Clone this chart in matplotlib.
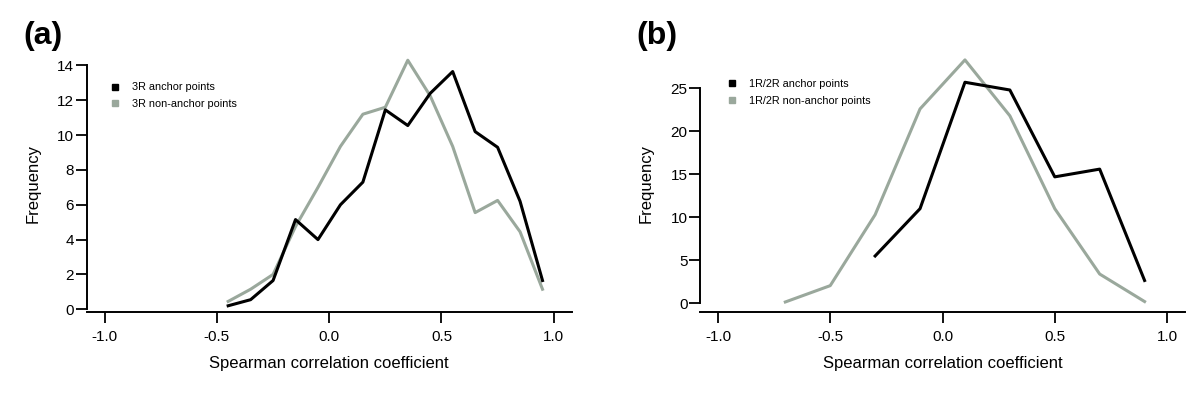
import matplotlib
matplotlib.use('Agg')

import matplotlib.pyplot as plt
from matplotlib.lines import Line2D

plt.rcParams['font.family'] = ['Liberation Sans', 'DejaVu Sans']

BLACK = '#000000'
GREY = '#9aa89c'

# panel (a): 3R
x_a = [-0.45, -0.35, -0.25, -0.15, -0.05, 0.05, 0.15, 0.25, 0.35, 0.45, 0.55, 0.65, 0.75, 0.85, 0.95]
anchor_a = [0.2, 0.55, 1.65, 5.15, 4.0, 6.0, 7.3, 11.45, 10.55, 12.4, 13.65, 10.2, 9.3, 6.2, 1.65]
nonanchor_a = [0.45, 1.15, 2.0, 4.75, 7.0, 9.35, 11.2, 11.6, 14.3, 12.25, 9.35, 5.55, 6.25, 4.45, 1.15]

# panel (b): 1R/2R
x_b_anchor = [-0.3, -0.1, 0.1, 0.3, 0.5, 0.7, 0.9]
anchor_b = [5.5, 11.0, 25.7, 24.8, 14.7, 15.6, 2.65]
x_b_non = [-0.7, -0.5, -0.3, -0.1, 0.1, 0.3, 0.5, 0.7, 0.9]
nonanchor_b = [0.15, 2.05, 10.3, 22.6, 28.3, 21.8, 11.0, 3.4, 0.2]

x_ticks = [-1.0, -0.5, 0.0, 0.5, 1.0]
x_ticklabels = ['-1.0', '-0.5', '0.0', '0.5', '1.0']
y_ticks_a = [0, 2, 4, 6, 8, 10, 12, 14]
y_ticks_b = [0, 5, 10, 15, 20, 25]

W, H = 1200, 401
fig = plt.figure(figsize=(12, 4.01), dpi=100)


def px_axes(left, right, top, bottom):
    return fig.add_axes([left / W, (H - bottom) / H, (right - left) / W, (bottom - top) / H])


def style(ax, yticks, ylim, labels, legend_xy):
    ax.set_xlim(-1.08, 1.08)
    ax.set_ylim(*ylim)
    for s in ['top', 'right']:
        ax.spines[s].set_visible(False)
    for s in ['left', 'bottom']:
        ax.spines[s].set_linewidth(1.4)
    ax.spines['left'].set_bounds(yticks[0], yticks[-1])
    ax.set_xticks(x_ticks)
    ax.set_xticklabels(x_ticklabels)
    ax.set_yticks(yticks)
    ax.tick_params(axis='x', length=8, width=1.3, pad=5, labelsize=11)
    ax.tick_params(axis='y', length=8, width=1.3, pad=1, labelsize=11)
    ax.set_xlabel('Spearman correlation coefficient', fontsize=12, labelpad=9)
    ax.set_ylabel('Frequency', fontsize=12)
    ax.yaxis.set_label_coords(-0.095, 0.5)
    handles = [Line2D([], [], ls='', marker='s', ms=4.5, color=BLACK),
               Line2D([], [], ls='', marker='s', ms=4.5, color=GREY)]
    ax.legend(handles, labels, loc='upper left', bbox_to_anchor=legend_xy,
              frameon=False, fontsize=7.8, handletextpad=1.1, labelspacing=0.6,
              borderaxespad=0, handlelength=1.0)


ax1 = px_axes(86.7, 571.7, 55, 311.7)
ax1.plot(x_a, nonanchor_a, color=GREY, lw=2.2)
ax1.plot(x_a, anchor_a, color=BLACK, lw=2.2)
style(ax1, y_ticks_a, (-0.14, 14.6), ['3R anchor points', '3R non-anchor points'], (0.038, 0.91))

ax2 = px_axes(700, 1185, 55, 311.7)
ax2.plot(x_b_non, nonanchor_b, color=GREY, lw=2.2)
ax2.plot(x_b_anchor, anchor_b, color=BLACK, lw=2.2)
style(ax2, y_ticks_b, (-0.98, 28.87), ['1R/2R anchor points', '1R/2R non-anchor points'], (0.045, 0.923))

fig.text(23 / W, 1 - 21 / H, '(a)', fontsize=23, fontweight='bold', va='top', ha='left')
fig.text(636 / W, 1 - 21 / H, '(b)', fontsize=23, fontweight='bold', va='top', ha='left')

fig.savefig('out.png', dpi=100)
